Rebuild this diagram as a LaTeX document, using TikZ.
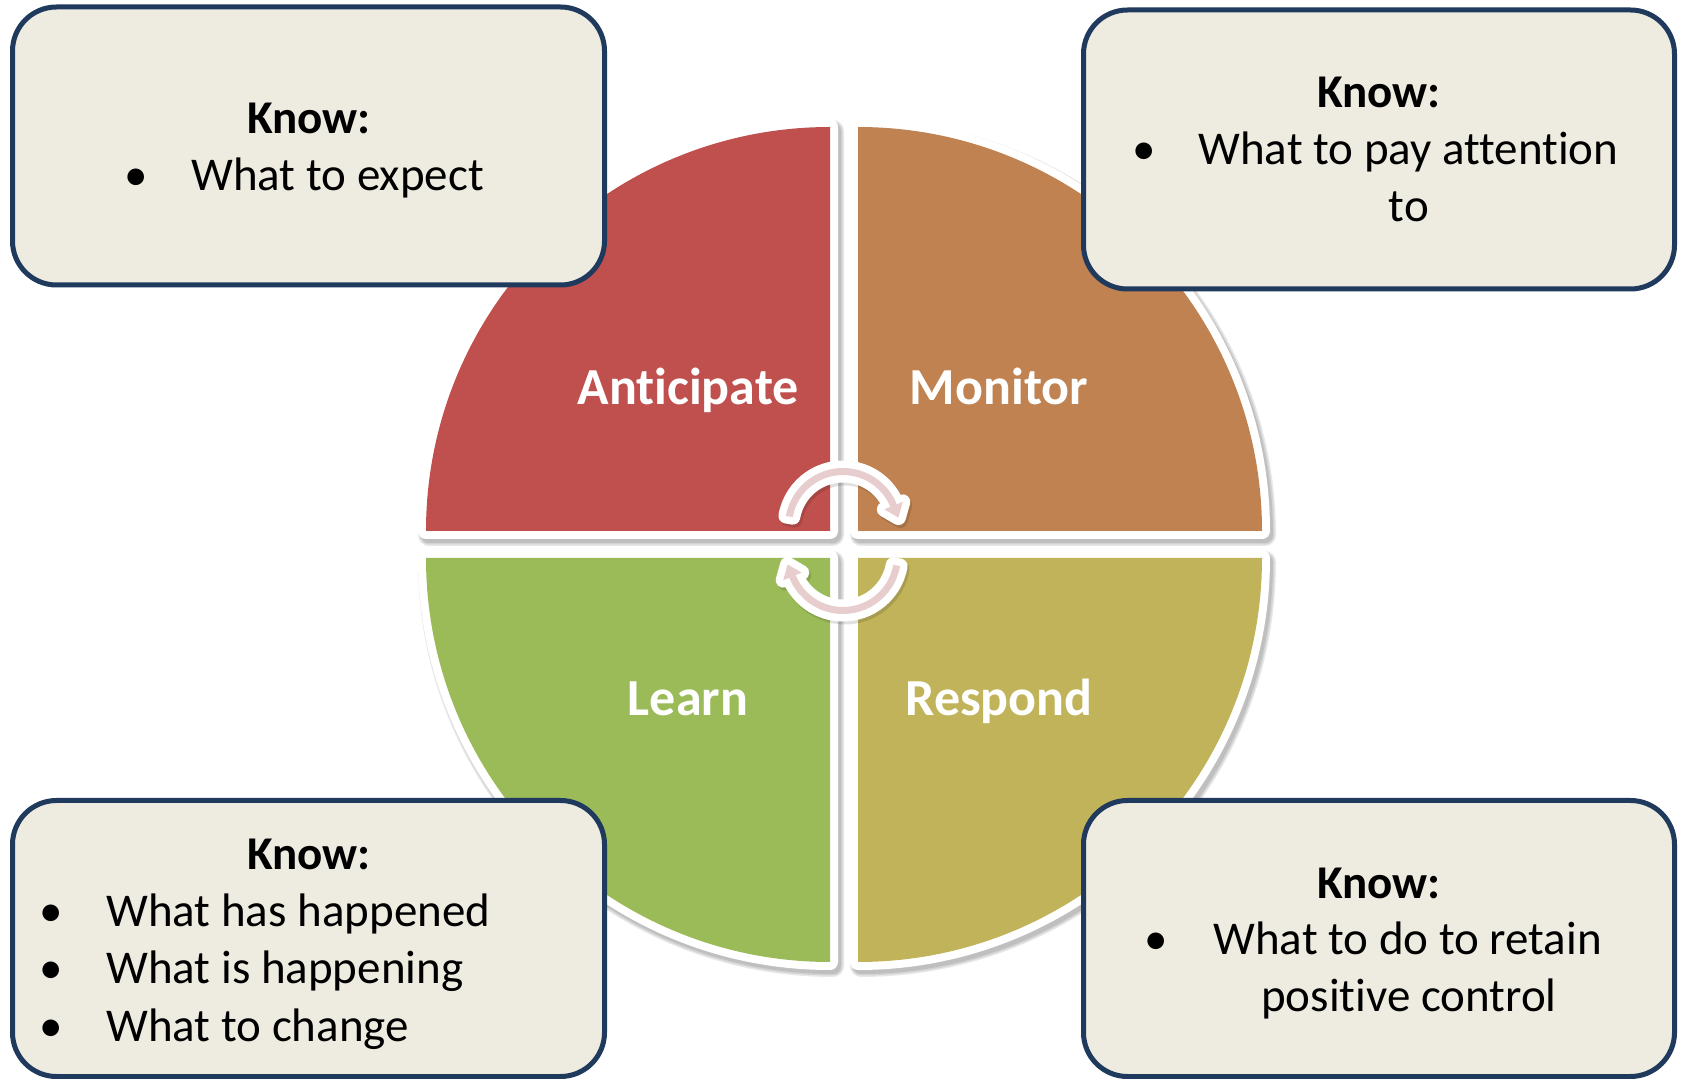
\documentclass[tikz,border=0pt]{standalone}
\usepackage{fontspec}
\setmainfont{Carlito}[RawFeature={-liga}]
\usetikzlibrary{calc}

\definecolor{quadred}{HTML}{C0504D}
\definecolor{quadbrown}{HTML}{BF8250}
\definecolor{quadgreen}{HTML}{9BBB59}
\definecolor{quadolive}{HTML}{C0B35A}
\definecolor{arrowpink}{HTML}{E8CDCE}
\definecolor{boxcream}{HTML}{EEECE1}
\definecolor{boxnavy}{HTML}{1F3A5C}

% quarter discs (fill regions), coordinates in pixels, y pointing down
\def\quadA{(830,531) -- (426,531) arc[start angle=180,end angle=270,radius=404] -- cycle}
\def\quadB{(858,531) -- (858,127) arc[start angle=270,end angle=360,radius=404] -- cycle}
\def\quadC{(830,558) -- (426,558) arc[start angle=180,end angle=90,radius=404] -- cycle}
\def\quadD{(858,558) -- (1262,558) arc[start angle=0,end angle=90,radius=404] -- cycle}

% curved arrow around the origin, sweeping clockwise with its head on the right
\def\cyclearrow{(-170:58) arc[start angle=-170,end angle=-22,radius=58]
  -- (-22:64.5) -- (55.4,-8.4) -- (-22:44.5) -- (-22:51)
  arc[start angle=-22,end angle=-170,radius=51] -- cycle}

\tikzset{
  quadrim/.style={draw=white, fill=white, line width=8pt, line join=round},
  quadshade/.style={draw=black, fill=black, line join=round, opacity=0.09},
  infobox/.style={draw=boxnavy, fill=boxcream, line width=2.5pt, rounded corners=22pt},
  headtext/.style={font=\bfseries\fontsize{23.5}{28}\selectfont, inner sep=0pt, anchor=base},
  itemtext/.style={font=\fontsize{23.5}{28}\selectfont, inner sep=0pt, anchor=base west},
  itemtextc/.style={font=\fontsize{23.5}{28}\selectfont, inner sep=0pt, anchor=base},
  bulletdot/.style={font=\fontsize{23.5}{28}\selectfont, inner sep=0pt, anchor=base},
  quadlabel/.style={font=\bfseries\fontsize{26}{30}\selectfont, text=white, inner sep=0pt, anchor=base},
  arrowrim/.style={draw=white, line width=7.5pt, line join=round},
  arrowshade/.style={draw=black, fill=black, line width=7.5pt, line join=round, opacity=0.12},
  arrowcore/.style={fill=arrowpink},
}

\begin{document}
\begin{tikzpicture}[x=0.5pt,y=-0.5pt]
\useasboundingbox (0,0) rectangle (1683,1079);
\fill[white] (0,0) rectangle (1683,1079);

% soft drop shadows of the quarter discs
\begin{scope}[shift={(3,4)}]
  \foreach \w in {11pt,9.5pt,8pt} {
    \path[quadshade, line width=\w] \quadA;
    \path[quadshade, line width=\w] \quadB;
    \path[quadshade, line width=\w] \quadC;
    \path[quadshade, line width=\w] \quadD;
  }
\end{scope}

% white rims
\path[quadrim] \quadA;
\path[quadrim] \quadB;
\path[quadrim] \quadC;
\path[quadrim] \quadD;

% coloured quarters
\fill[quadred] \quadA;
\fill[quadbrown] \quadB;
\fill[quadgreen] \quadC;
\fill[quadolive] \quadD;

% quarter labels
\node[quadlabel] (anticipate) at (688,405) {Anticipate};
\node[quadlabel] (monitor) at (999,405) {Monitor};
\node[quadlabel] (learn) at (688,716) {Learn};
\node[quadlabel] (respond) at (999,716) {Respond};

% cycle arrows in the middle
\begin{scope}[shift={(845,529)}]
  \path[arrowshade] \cyclearrow;
\end{scope}
\begin{scope}[shift={(845,559)}, rotate=180]
  \path[arrowshade] \cyclearrow;
\end{scope}
\begin{scope}[shift={(843,526)}]
  \path[arrowrim] \cyclearrow;
  \path[arrowcore] \cyclearrow;
\end{scope}
\begin{scope}[shift={(843,556)}, rotate=180]
  \path[arrowrim] \cyclearrow;
  \path[arrowcore] \cyclearrow;
\end{scope}

% information boxes
\path[infobox] (12.5,7) rectangle (604.5,285);
\path[infobox] (1083.5,10) rectangle (1674.5,289);
\path[infobox] (12.5,800.5) rectangle (604.5,1076.5);
\path[infobox] (1083.5,800.5) rectangle (1674.5,1076.5);

% top left
\node[headtext] (k1) at (309,133.3) {Know:};
\node[bulletdot] (b1) at (136,190.7) {•};
\node[itemtext] (t1) at (191,190.7) {What to expect};

% top right
\node[headtext] (k2) at (1379,107.3) {Know:};
\node[bulletdot] (b2) at (1144,165) {•};
\node[itemtext] (t2) at (1198,165) {What to pay attention};
\node[itemtextc] (t2b) at (1409,221.7) {to};

% bottom left
\node[headtext] (k3) at (309,870) {Know:};
\node[bulletdot] (b3a) at (51.5,926.7) {•};
\node[itemtext] (t3a) at (106,926.7) {What has happened};
\node[bulletdot] (b3b) at (51.5,984) {•};
\node[itemtext] (t3b) at (106,984) {What is happening};
\node[bulletdot] (b3c) at (51.5,1041.7) {•};
\node[itemtext] (t3c) at (106,1041.7) {What to change};

% bottom right
\node[headtext] (k4) at (1379,898.3) {Know:};
\node[bulletdot] (b4) at (1156,955) {•};
\node[itemtext] (t4) at (1213,955) {What to do to retain};
\node[itemtextc] (t4b) at (1409,1011.7) {positive control};
\end{tikzpicture}
\end{document}
